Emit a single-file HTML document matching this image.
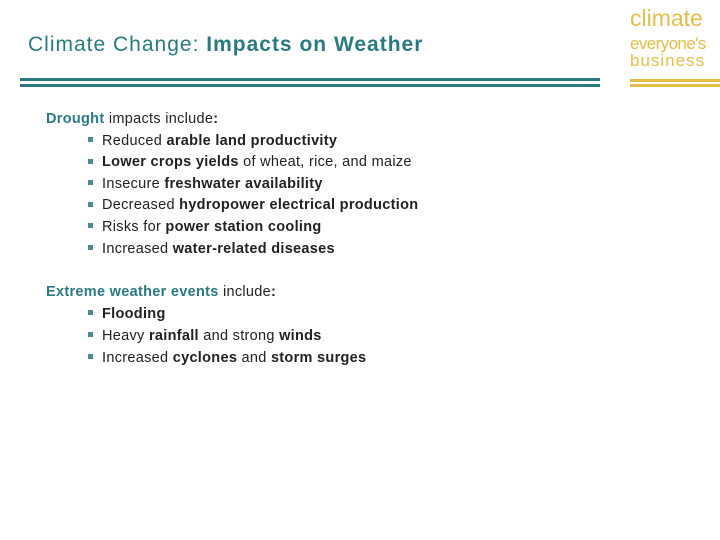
<!DOCTYPE html>
<html><head><meta charset="utf-8"><style>
body{margin:0;width:720px;height:540px;background:#fff;position:relative;overflow:hidden;font-family:"Liberation Sans",sans-serif}
.t{position:absolute;white-space:nowrap}
#title{left:28px;top:33px;font-size:21px;color:#2b7a82;letter-spacing:1px}
.ln{position:absolute;height:3px}
.body{font-size:14.5px;color:#222;letter-spacing:0.3px}
.body b{font-weight:bold}
.h{color:#2b7a82}
.bul{position:absolute;left:88px;width:5px;height:5px;background:#4a8a90}
.logo{position:absolute;left:630px;color:#e3bf4a;font-family:"Liberation Sans",sans-serif}
</style></head><body>
<div class="t" id="title">Climate Change: <b>Impacts on Weather</b></div>
<div class="ln" style="left:20px;top:78px;width:580px;background:#2b7a82"></div>
<div class="ln" style="left:20px;top:84px;width:580px;background:#2b7a82"></div>
<div class="logo" style="top:5px;font-size:23px">climate</div>
<div class="logo" style="top:34px;font-size:17px;letter-spacing:-0.6px">everyone's</div>
<div class="logo" style="top:51px;font-size:17px;letter-spacing:1px">business</div>
<div class="ln" style="left:630px;top:79px;width:90px;background:#e3bf4a"></div>
<div class="ln" style="left:630px;top:84px;width:90px;background:#e3bf4a"></div>

<div class="t body" style="left:46px;top:111px"><b class="h">Drought</b> impacts include<b>:</b></div>
<div class="bul" style="top:137px"></div>
<div class="t body" style="left:102px;top:133px">Reduced <b>arable land productivity</b></div>
<div class="bul" style="top:159px"></div>
<div class="t body" style="left:102px;top:154px"><b>Lower crops yields</b> of wheat, rice, and maize</div>
<div class="bul" style="top:180px"></div>
<div class="t body" style="left:102px;top:176px">Insecure <b>freshwater availability</b></div>
<div class="bul" style="top:202px"></div>
<div class="t body" style="left:102px;top:197px">Decreased <b>hydropower electrical production</b></div>
<div class="bul" style="top:223px"></div>
<div class="t body" style="left:102px;top:219px">Risks for <b>power station cooling</b></div>
<div class="bul" style="top:245px"></div>
<div class="t body" style="left:102px;top:241px">Increased <b>water-related diseases</b></div>

<div class="t body" style="left:46px;top:284px"><b class="h">Extreme weather events</b> include<b>:</b></div>
<div class="bul" style="top:310px"></div>
<div class="t body" style="left:102px;top:306px"><b>Flooding</b></div>
<div class="bul" style="top:332px"></div>
<div class="t body" style="left:102px;top:328px">Heavy <b>rainfall</b> and strong <b>winds</b></div>
<div class="bul" style="top:354px"></div>
<div class="t body" style="left:102px;top:350px">Increased <b>cyclones</b> and <b>storm surges</b></div>
</body></html>
